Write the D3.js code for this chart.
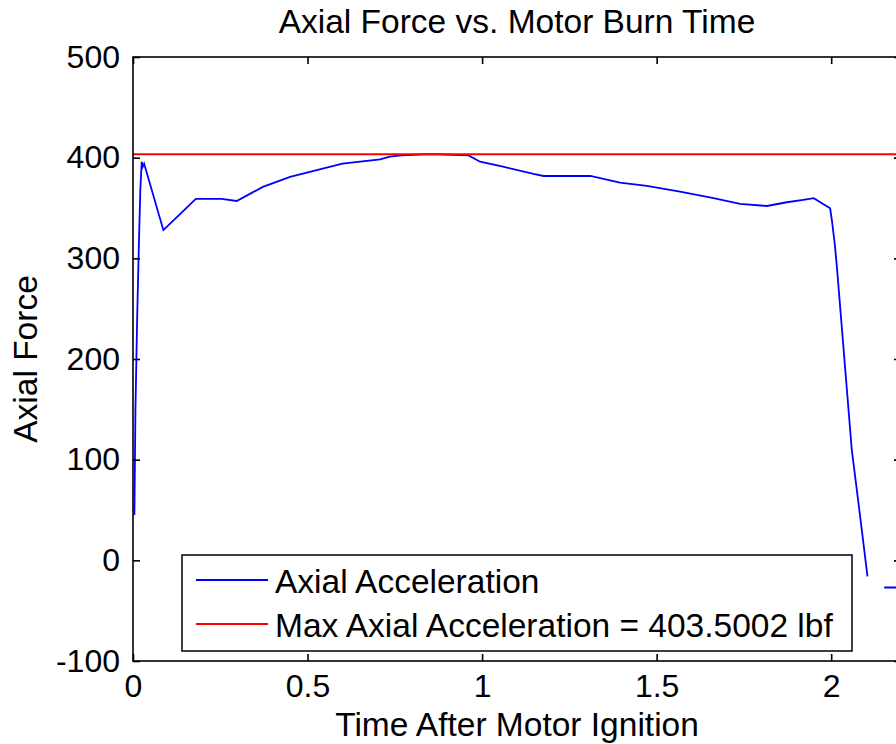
<!DOCTYPE html>
<html>
<head>
<meta charset="utf-8">
<script src="https://cdn.jsdelivr.net/npm/d3@7"></script>
<style>
  body { margin: 0; background: #fff; }
  svg { display: block; }
  text { font-family: "Liberation Sans", Arial, Helvetica, sans-serif; fill: #000; }
</style>
</head>
<body>
<svg width="896" height="744"></svg>
<script>
// burn time (s) and axial force (lbf); null = break in the trace
var burnTime = [0.004, 0.007, 0.012, 0.017, 0.021, 0.025, 0.028, 0.032, 0.087, 0.18, 0.254, 0.297,
  0.34, 0.372, 0.45, 0.6, 0.708, 0.736, 0.77, 0.85, 0.96, 0.994, 1.06, 1.147, 1.176, 1.31,
  1.395, 1.472, 1.567, 1.663, 1.739, 1.816, 1.873, 1.92, 1.95, 1.997, 2.002, 2.01, 2.016,
  2.059, 2.083, 2.104, null, 2.152, 2.25];
var axialForce = [45, 150, 242, 316, 368, 396, 391, 394, 328, 359, 359, 357,
  365, 371, 381, 394, 398.4, 401, 402.4, 403.5, 402.4, 396, 391, 383.8, 381.8, 381.8,
  375.2, 372, 366.3, 359.7, 354, 352, 355.7, 358, 359.7, 349.7, 338, 315, 293,
  110, 43.5, -16, null, -27, -27];
var maxForce = 403.5002;

var xTicks = [0, 0.5, 1, 1.5, 2];
var yTicks = [-100, 0, 100, 200, 300, 400, 500];

var seriesNames = ["Axial Acceleration", "Max Axial Acceleration = " + maxForce.toFixed(4) + " lbf"];
var seriesColors = ["#0000ff", "#ff0000"];

var svg = d3.select("svg");
var plotLeft = 133, plotRight = 901, plotTop = 57, plotBottom = 661;

var xScale = d3.scaleLinear().domain([0, 2.2]).range([plotLeft, plotRight]);
var yScale = d3.scaleLinear().domain([-100, 500]).range([plotBottom, plotTop]);

svg.append("clipPath").attr("id", "plotClip")
  .append("rect").attr("x", plotLeft).attr("y", plotTop)
  .attr("width", plotRight - plotLeft).attr("height", plotBottom - plotTop);

var points = burnTime.map(function (t, i) { return { t: t, f: axialForce[i] }; });

var line = d3.line()
  .defined(function (d) { return d.t !== null && d.f !== null; })
  .x(function (d) { return xScale(d.t); })
  .y(function (d) { return yScale(d.f); });

var plot = svg.append("g").attr("clip-path", "url(#plotClip)");

plot.append("path")
  .attr("d", line(points))
  .attr("fill", "none")
  .attr("stroke", seriesColors[0])
  .attr("stroke-width", 1.8);

plot.append("path")
  .attr("d", line([{ t: 0, f: maxForce }, { t: 2.2, f: maxForce }]))
  .attr("fill", "none")
  .attr("stroke", seriesColors[1])
  .attr("stroke-width", 2);

// axes, ticks pointing inward like MATLAB
function styleAxis(g) {
  g.select(".domain").remove();
  g.selectAll(".tick line").attr("stroke", "#000").attr("stroke-width", 1.6);
  g.selectAll(".tick text").style("font-size", "32px");
}

function plainLabel(d) { return String(d); }

svg.append("g").attr("transform", "translate(0," + plotBottom + ")")
  .call(d3.axisBottom(xScale).tickValues(xTicks).tickFormat(plainLabel)
    .tickSizeInner(-7).tickSizeOuter(0).tickPadding(13))
  .call(styleAxis);

svg.append("g").attr("transform", "translate(0," + plotTop + ")")
  .call(d3.axisTop(xScale).tickValues(xTicks).tickFormat("")
    .tickSizeInner(-7).tickSizeOuter(0))
  .call(styleAxis);

svg.append("g").attr("transform", "translate(" + plotLeft + ",0)")
  .call(d3.axisLeft(yScale).tickValues(yTicks).tickFormat(plainLabel)
    .tickSizeInner(-7).tickSizeOuter(0).tickPadding(13))
  .call(styleAxis);

svg.append("g").attr("transform", "translate(" + plotRight + ",0)")
  .call(d3.axisRight(yScale).tickValues(yTicks).tickFormat("")
    .tickSizeInner(-7).tickSizeOuter(0))
  .call(styleAxis);

svg.append("rect")
  .attr("x", plotLeft).attr("y", plotTop)
  .attr("width", plotRight - plotLeft).attr("height", plotBottom - plotTop)
  .attr("fill", "none").attr("stroke", "#000").attr("stroke-width", 1.6);

// titles
svg.append("text").attr("x", (plotLeft + plotRight) / 2).attr("y", 33)
  .attr("text-anchor", "middle").style("font-size", "33.5px")
  .text("Axial Force vs. Motor Burn Time");

svg.append("text").attr("x", (plotLeft + plotRight) / 2).attr("y", 736)
  .attr("text-anchor", "middle").style("font-size", "33.5px")
  .text("Time After Motor Ignition");

svg.append("text")
  .attr("transform", "translate(37," + (plotTop + plotBottom) / 2 + ") rotate(-90)")
  .attr("text-anchor", "middle").style("font-size", "33.5px")
  .text("Axial Force");

// legend
var legend = svg.append("g");
legend.append("rect")
  .attr("x", 182).attr("y", 555).attr("width", 670).attr("height", 96)
  .attr("fill", "#fff").attr("stroke", "#000").attr("stroke-width", 1.5);

seriesNames.forEach(function (name, i) {
  var ly = 580 + i * 44;
  legend.append("line")
    .attr("x1", 196).attr("x2", 268).attr("y1", ly).attr("y2", ly)
    .attr("stroke", seriesColors[i]).attr("stroke-width", 2);
  legend.append("text")
    .attr("x", 275).attr("y", ly + 13)
    .style("font-size", "33.5px")
    .text(name);
});
</script>
</body>
</html>
